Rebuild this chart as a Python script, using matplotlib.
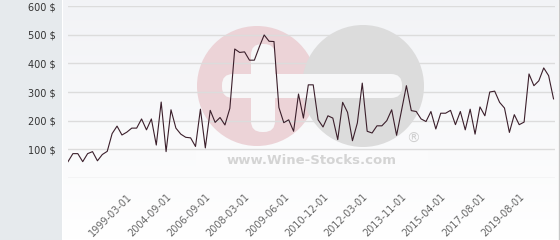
import numpy as np
import matplotlib.pyplot as plt
from matplotlib.patches import Circle, FancyBboxPatch, Rectangle

# wine price series (USD), one value per category
prices = [57, 85, 85, 57, 85, 92, 60, 82, 93, 155,
          181, 150, 160, 174, 174, 206, 168, 206, 115, 265,
          92, 238, 174, 153, 142, 140, 110, 240, 105, 236,
          194, 211, 185, 243, 450, 438, 440, 411, 411, 457,
          499, 477, 476, 246, 193, 203, 163, 293, 209, 325,
          325, 203, 178, 217, 209, 134, 264, 229, 130, 192,
          331, 163, 157, 182, 182, 200, 238, 149, 235, 322,
          235, 232, 206, 197, 232, 171, 226, 226, 236, 186,
          232, 168, 240, 153, 248, 217, 300, 303, 264, 244,
          159, 221, 186, 195, 363, 322, 339, 384, 357, 276]

tick_labels = ['1999-03-01', '2004-09-01', '2006-09-01', '2008-03-01',
               '2009-06-01', '2010-12-01', '2012-03-01', '2013-11-01',
               '2015-04-01', '2017-08-01', '2019-08-01']
y_ticks = [100, 200, 300, 400, 500, 600]

W, H = 560, 240
fig = plt.figure(figsize=(W / 100, H / 100), dpi=100)

# background: grey side panel + light gradient
bg = fig.add_axes([0, 0, 1, 1], zorder=-10)
bg.set_axis_off()
bg.set_xlim(0, W)
bg.set_ylim(H, 0)
grad = np.linspace(0, 1, 100).reshape(-1, 1)
bg.imshow(grad, cmap=plt.matplotlib.colors.LinearSegmentedColormap.from_list(
    'g', ['#f2f3f6', '#ffffff']), extent=[63, 558, 240, 0], aspect='auto')
bg.add_patch(Rectangle((0, 0), 62, H, color='#e6eaed', lw=0))
bg.plot([558.5, 558.5], [0, H], color='#c8c8c8', lw=1)

# watermark
bg.add_patch(Circle((257, 86), 60, color='#ecd3d7', lw=0))
bg.add_patch(Circle((363, 86), 61, color='#dcdcdc', lw=0))
bg.add_patch(FancyBboxPatch((222, 74), 180, 24, boxstyle='round,pad=0,rounding_size=11',
                            color='#f7f7f8', lw=0))
bg.add_patch(FancyBboxPatch((251, 44), 24, 88, boxstyle='round,pad=0,rounding_size=11',
                            color='#f7f7f8', lw=0))
bg.add_patch(Rectangle((196, 148), 232, 24, color='#fbfbfc', lw=0))
bg.text(312, 161, 'www.Wine-Stocks.com', ha='center', va='center',
        fontsize=9.5, fontweight='bold', color='#d4d4d4')
bg.text(413, 139, '®', ha='center', va='center', fontsize=10, color='#d0d0d0')

ax = fig.add_axes([68 / W, 1 - 178 / H, (555 - 68) / W, (178 - 6) / H])
ax.patch.set_alpha(0)
x = np.arange(len(prices))
ax.plot(x, prices, color='#3b1f2b', lw=0.8)

ax.set_ylim(0, 600)
ax.set_xlim(0, len(prices) - 1 + 0.3)
ax.set_yticks([0] + y_ticks)
ax.set_yticklabels([''] + ['%d $' % v for v in y_ticks])
ax.grid(axis='y', color='#dcdcdc', lw=1)
ax.tick_params(axis='y', length=0, pad=9, labelsize=7, labelcolor='#333333')

first, step = 12, 8
ax.set_xticks(first + step * np.arange(len(tick_labels)))
ax.set_xticklabels(tick_labels, rotation=45, ha='right', va='top',
                   rotation_mode='anchor', fontsize=7, color='#666666')
ax.tick_params(axis='x', length=0, pad=10)
for s in ax.spines.values():
    s.set_visible(False)

fig.savefig('out.png', dpi=100)
